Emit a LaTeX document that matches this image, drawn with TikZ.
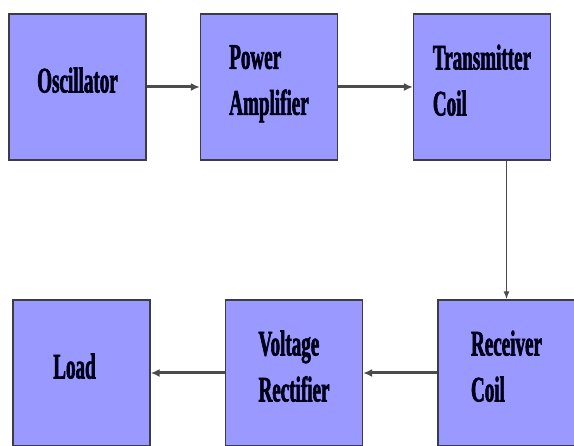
\documentclass[tikz,border=0pt]{standalone}
\usepackage{fontspec}
\newfontfamily\blockfont{Liberation Serif}[FakeStretch=0.53, BoldFeatures={FakeBold=1.6}]
\usetikzlibrary{arrows.meta}
\definecolor{blockfill}{RGB}{153,153,255}
\definecolor{blockline}{RGB}{60,60,70}
\tikzset{
    block/.style={draw=blockline, line width=1.3pt, fill=blockfill, minimum width=137pt, minimum height=146pt,
        align=left, text depth=14pt, inner sep=0pt, text=black!90!blue,
        font=\blockfont\bfseries\fontsize{36}{46}\selectfont},
    flow/.style={draw=black!70, line width=3pt, -{Latex[length=9pt,width=8pt]}}
}
\begin{document}
\begin{tikzpicture}[x=1pt,y=-1pt]
    \useasboundingbox[fill=white] (0,0) rectangle (574,446);
    % Transmitter side
    \node[block] (osc) at (77.5,87) {Oscillator};
    \node[block] (amp) at (269,87) {Power\\Amplifier};
    \node[block] (txcoil) at (482,87) {Transmitter\\Coil};
    % Receiver side
    \node[block] (load) at (81.5,373) {Load\hspace*{14pt}};
    \node[block] (rect) at (294,373) {Voltage\\Rectifier};
    \node[block] (rxcoil) at (506.5,373) {Receiver\\Coil};
    % Arrows
    \draw[flow] (osc) -- (amp);
    \draw[flow] (amp) -- (txcoil);
    \draw[flow, line width=1.3pt, -{Latex[length=8pt,width=6pt]}] (txcoil.south -| rxcoil.north) -- (rxcoil.north);
    \draw[flow] (rxcoil) -- (rect);
    \draw[flow] (rect) -- (load);
\end{tikzpicture}
\end{document}
